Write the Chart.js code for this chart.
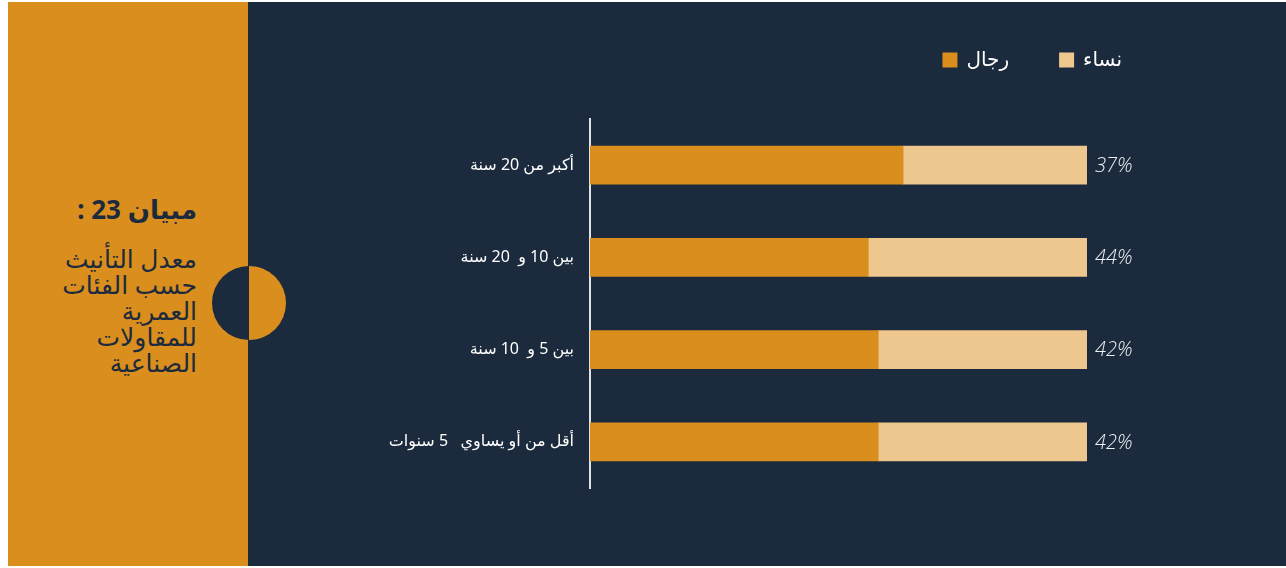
<!DOCTYPE html>
<html lang="ar">
<head>
<meta charset="utf-8">
<script src="https://cdn.jsdelivr.net/npm/chart.js@4"></script>
<style>
  html, body { margin: 0; padding: 0; background: #ffffff; }
  body { width: 1286px; height: 568px; position: relative; overflow: hidden; font-family: "Noto Sans", "DejaVu Sans", sans-serif; }
  .side { position: absolute; left: 8px; top: 2px; width: 240px; height: 564px; background: #d98e1e; }
  .main { position: absolute; left: 248px; top: 2px; width: 1038px; height: 564px; background: #1b2a3c; }
  .dot { position: absolute; left: 212px; top: 266px; width: 74px; height: 74px; border-radius: 50%;
         background: linear-gradient(to right, #1b2a3c 50%, #d98e1e 50%); }
  .heading { position: absolute; right: calc(1286px - 197px); top: 189px; width: 190px; direction: rtl; text-align: right; color: #1b2a3c; }
  .heading h1 { margin: 0 0 16px 0; font-size: 26px; font-weight: 700; line-height: 40px; }
  .heading p { margin: 0; font-size: 25px; line-height: 26px; font-weight: 400; }
  canvas { position: absolute; left: 0; top: 0; }
</style>
</head>
<body>
<div class="side"></div>
<div class="main"></div>
<div class="dot"></div>
<div class="heading">
  <h1>مبيان 23 :</h1>
  <p>معدل التأنيث<br>حسب الفئات<br>العمرية<br>للمقاولات<br>الصناعية</p>
</div>
<canvas id="chart" width="1286" height="568"></canvas>
<script>
  'use strict';

  // الفئات العمرية
  var categories = ['أكبر من 20 سنة', 'بين 10 و  20 سنة', 'بين 5 و  10 سنة', 'أقل من أو يساوي   5 سنوات'];
  // نسب الرجال والنساء (%)
  var menShare = [63, 56, 58, 58];
  var womenShare = [37, 44, 42, 42];
  var seriesNames = ['رجال', 'نساء'];

  var orange = '#d98e1e';
  var sand = '#eec78f';

  // نسبة النساء على يمين كل شريط
  var womenLabels = {
    id: 'womenLabels',
    afterDatasetsDraw: function (chart) {
      var ctx = chart.ctx;
      var meta = chart.getDatasetMeta(1);
      ctx.save();
      ctx.font = 'italic 300 20px "Open Sans", "Noto Sans", sans-serif';
      ctx.fillStyle = '#eef1f4';
      ctx.textAlign = 'left';
      ctx.textBaseline = 'middle';
      meta.data.forEach(function (bar, i) {
        ctx.fillText(womenShare[i] + '%', bar.x + 8, bar.y + 1);
      });
      ctx.restore();
    }
  };

  // مفتاح الألوان في الأعلى
  var topLegend = {
    id: 'topLegend',
    afterDraw: function (chart) {
      var ctx = chart.ctx;
      var box = 15, gap = 9, between = 50, y = 60, right = 1122;
      ctx.save();
      ctx.font = '20px "Noto Sans", "DejaVu Sans", sans-serif';
      var items = chart.data.datasets.map(function (ds) {
        return { text: ds.label, color: ds.backgroundColor, w: ctx.measureText(ds.label).width };
      });
      var total = 0;
      items.forEach(function (it, i) { total += box + gap + it.w + (i ? between : 0); });
      var x = right - total;
      ctx.textBaseline = 'middle';
      ctx.textAlign = 'left';
      items.forEach(function (it) {
        ctx.fillStyle = it.color;
        ctx.fillRect(x, y - box / 2, box, box);
        ctx.fillStyle = '#ffffff';
        ctx.fillText(it.text, x + box + gap, y);
        x += box + gap + it.w + between;
      });
      ctx.restore();
    }
  };

  new Chart(document.getElementById('chart').getContext('2d'), {
    type: 'bar',
    data: {
      labels: categories,
      datasets: [
        { label: seriesNames[0], data: menShare, backgroundColor: orange, barThickness: 38 },
        { label: seriesNames[1], data: womenShare, backgroundColor: sand, barThickness: 38 }
      ]
    },
    options: {
      indexAxis: 'y',
      responsive: false,
      animation: false,
      layout: { padding: { top: 119, bottom: 80, right: 199, left: 0 } },
      plugins: {
        legend: { display: false },
        tooltip: { enabled: false }
      },
      scales: {
        x: { stacked: true, min: 0, max: 100, display: false },
        y: {
          stacked: true,
          afterFit: function (scale) { scale.width = 590; },
          grid: { display: false },
          border: { display: true, color: '#dfe3e8', width: 2 },
          ticks: {
            color: '#ffffff',
            padding: 8,
            font: { family: '"Noto Sans", "DejaVu Sans", sans-serif', size: 16 }
          }
        }
      }
    },
    plugins: [womenLabels, topLegend]
  });
</script>
</body>
</html>
